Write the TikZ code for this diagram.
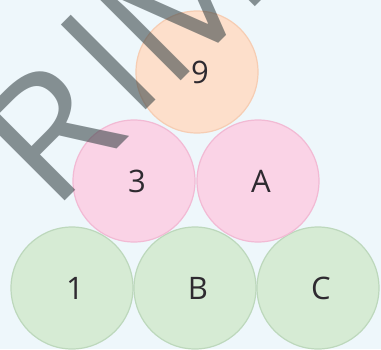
\documentclass[tikz,border=0pt]{standalone}
\usepackage{fontspec}
\setmainfont{Open Sans}
\definecolor{bg}{HTML}{EEF7FB}
\definecolor{peachF}{HTML}{FDDFCB}
\definecolor{peachD}{HTML}{F6CDB3}
\definecolor{pinkF}{HTML}{FAD3E6}
\definecolor{pinkD}{HTML}{F2BAD4}
\definecolor{greenF}{HTML}{D6EBD4}
\definecolor{greenD}{HTML}{BDD8BC}
\definecolor{wm}{HTML}{354144}
\definecolor{txt}{HTML}{2E2A30}
\begin{document}
\begin{tikzpicture}[x=1pt,y=-1pt,
  ball/.style={circle,minimum size=122pt,inner sep=0pt,line width=1.2pt},
  lbl/.style={font=\fontsize{31}{31}\selectfont,text=txt,xshift=3pt},
  top/.style={ball,fill=peachF,draw=peachD},
  mid/.style={ball,fill=pinkF,draw=pinkD},
  low/.style={ball,fill=greenF,draw=greenD},
  wmletter/.style={rotate=45,anchor=base,text=wm,opacity=0.57,inner sep=0pt,font=\fontsize{168}{168}\selectfont}]
\fill[bg] (0,0) rectangle (381,349);
\useasboundingbox (0,0) rectangle (381,349);
\clip (0,0) rectangle (381,349);
\node[top,label={[lbl]center:9}] (n9) at (197,72) {};
\node[low,label={[lbl]center:1}] (n1) at (72,288) {};
\node[low,label={[lbl]center:B}] (nB) at (195,288) {};
\node[low,label={[lbl]center:C}] (nC) at (318,288) {};
\node[mid,label={[lbl]center:3}] (n3) at (134,181) {};
\node[mid,label={[lbl]center:A}] (nA) at (258,181) {};
\node[wmletter,xscale=1.08] (wR) at (92,174) {R};
\node[wmletter] (wI) at (151,105) {I};
\node[wmletter] (wM) at (223,39) {M};
\end{tikzpicture}
\end{document}
